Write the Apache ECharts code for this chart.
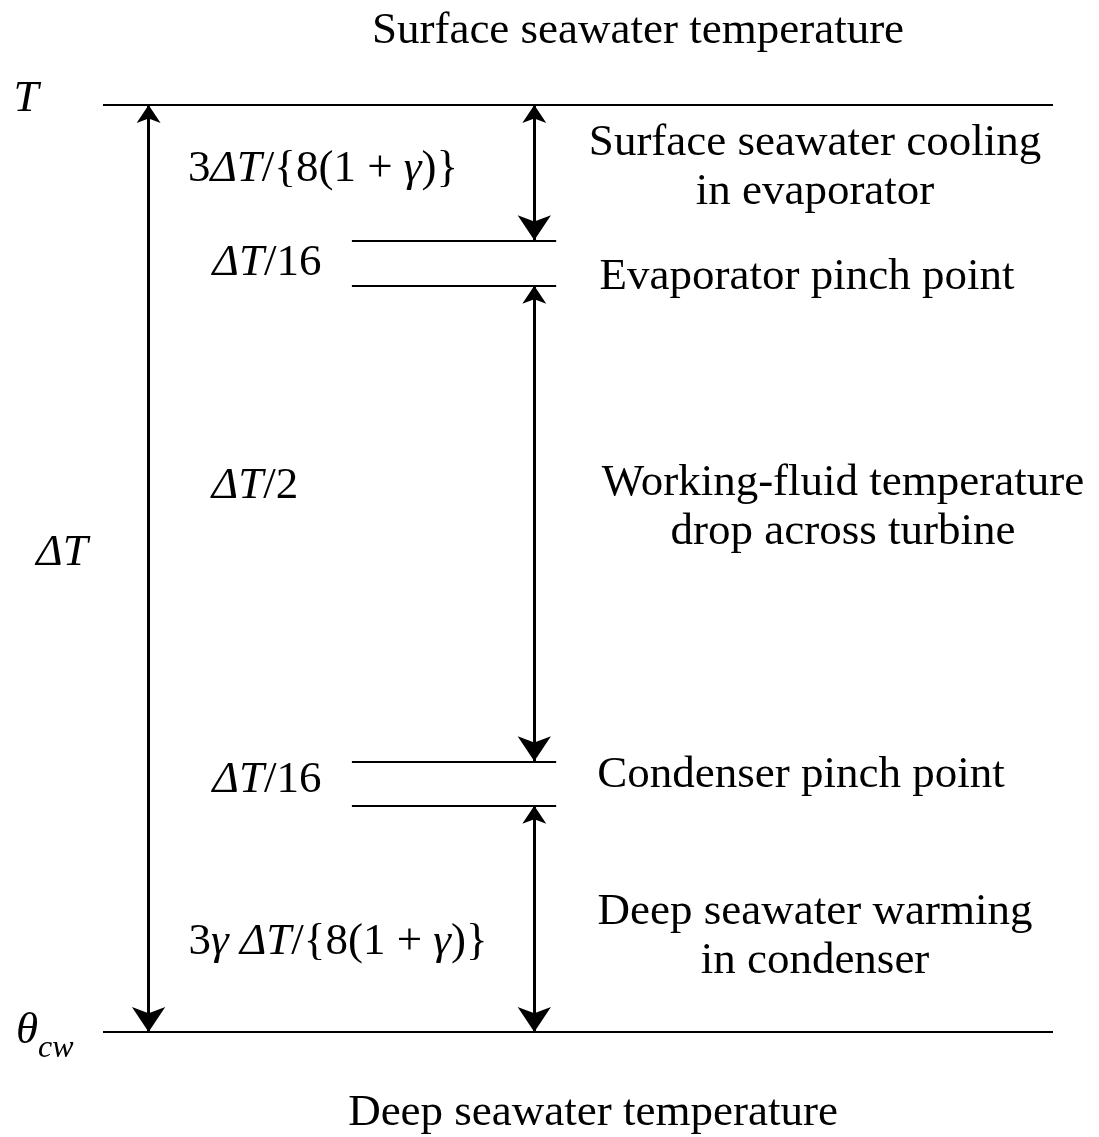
<!DOCTYPE html>
<html>
<head>
<meta charset="utf-8">
<script src="https://cdn.jsdelivr.net/npm/echarts@6/dist/echarts.min.js"></script>
<style>
  html, body { margin: 0; padding: 0; background: #fff; }
  #chart { width: 1099px; height: 1137px; }
</style>
</head>
<body>
<div id="chart"></div>
<script>
// Temperature levels as fraction of ΔT above θcw
const levelNames = ['T', 'Evaporator pinch upper', 'Evaporator pinch lower', 'Condenser pinch upper', 'Condenser pinch lower', 'θcw'];
const levels = [1.0, 0.854, 0.805, 0.292, 0.244, 0.0];
// Interval expressions (left) and descriptions (right)
const intervalExprs = ['3{i|ΔT}/{8(1 + {i|γ})}', '{i|ΔT}/16', '{i|ΔT}/2', '{i|ΔT}/16', '3{i|γ ΔT}/{8(1 + {i|γ})}'];
const intervalDescs = ['Surface seawater cooling\nin evaporator', 'Evaporator pinch point', 'Working-fluid temperature\ndrop across turbine', 'Condenser pinch point', 'Deep seawater warming\nin condenser'];
const topTitle = 'Surface seawater temperature';
const bottomTitle = 'Deep seawater temperature';

const FONT = '"Liberation Serif", "Times New Roman", serif';
const FS = 45;

// layout constants (x positions along the diagram, 0..1)
const X_LEFT_ARROW = 0.048, X_RIGHT_ARROW = 0.454, X_PINCH0 = 0.262, X_PINCH1 = 0.477;

const hLines = [
  { coords: [[0, levels[0]], [1, levels[0]]] },
  { coords: [[0, levels[5]], [1, levels[5]]] },
  { coords: [[X_PINCH0, levels[1]], [X_PINCH1, levels[1]]] },
  { coords: [[X_PINCH0, levels[2]], [X_PINCH1, levels[2]]] },
  { coords: [[X_PINCH0, levels[3]], [X_PINCH1, levels[3]]] },
  { coords: [[X_PINCH0, levels[4]], [X_PINCH1, levels[4]]] }
];
const arrows = [
  { coords: [[X_LEFT_ARROW, levels[0]], [X_LEFT_ARROW, levels[5]]] },
  { coords: [[X_RIGHT_ARROW, levels[0]], [X_RIGHT_ARROW, levels[1]]] },
  { coords: [[X_RIGHT_ARROW, levels[2]], [X_RIGHT_ARROW, levels[3]]] },
  { coords: [[X_RIGHT_ARROW, levels[4]], [X_RIGHT_ARROW, levels[5]]] }
];

const rich = {
  i: { fontFamily: FONT, fontSize: FS, fontStyle: 'italic', color: '#000' }
};
function txt(text, x, y, extra) {
  return Object.assign({
    type: 'text', x: x, y: y,
    style: {
      text: text, fontFamily: FONT, fontSize: FS, fill: '#000',
      align: 'center', verticalAlign: 'middle', lineHeight: 49, rich: rich
    }
  }, extra || {});
}

const graphics = [
  txt(topTitle, 638, 31),
  txt(bottomTitle, 593, 1113),
  txt('{i|T}', 26, 99),
  txt('{i|ΔT}', 62, 553),
  txt(intervalExprs[0], 323, 169),
  txt(intervalExprs[1], 267, 263),
  txt(intervalExprs[2], 255, 486),
  txt(intervalExprs[3], 267, 780),
  txt(intervalExprs[4], 338, 942),
  txt(intervalDescs[0], 815, 168),
  txt(intervalDescs[1], 807, 277),
  txt(intervalDescs[2], 843, 508),
  txt(intervalDescs[3], 801, 775),
  txt(intervalDescs[4], 815, 937),
  txt('{i|θ}', 27, 1031),
  { type: 'text', x: 38, y: 1049, style: { text: 'cw', fontFamily: FONT, fontSize: 32, fontStyle: 'italic', fill: '#000', align: 'left', verticalAlign: 'middle' } }
];

const chart = echarts.init(document.getElementById('chart'), null, { renderer: 'canvas' });
chart.setOption({
  animation: false,
  backgroundColor: '#fff',
  grid: { left: 103, right: 46, top: 105, bottom: 105 },
  xAxis: { type: 'value', min: 0, max: 1, show: false },
  yAxis: { type: 'value', min: 0, max: 1, show: false },
  graphic: graphics,
  series: [
    {
      type: 'lines', coordinateSystem: 'cartesian2d', polyline: false,
      symbol: 'none', silent: true,
      lineStyle: { color: '#000', width: 2, opacity: 1 },
      data: hLines, z: 2
    },
    {
      type: 'lines', coordinateSystem: 'cartesian2d', polyline: false,
      symbol: ['arrow', 'arrow'], symbolSize: [18, 25], silent: true,
      lineStyle: { color: '#000', width: 3, opacity: 1 },
      itemStyle: { color: '#000' },
      data: arrows, z: 3
    }
  ]
});
</script>
</body>
</html>
